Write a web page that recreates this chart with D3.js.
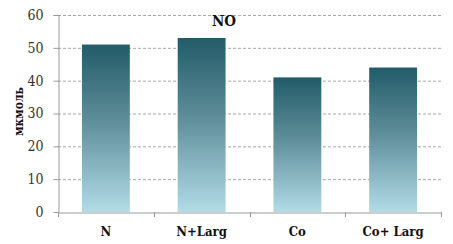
<!DOCTYPE html>
<html><head><meta charset="utf-8">
<script src="https://cdn.jsdelivr.net/npm/d3@7"></script>
<style>html,body{margin:0;padding:0;background:#fff;}</style>
</head><body>
<svg id="c" width="453" height="244"></svg>
<script>
const categories = ["N", "N+Larg", "Co", "Co+ Larg"];
const values = [51, 53, 41, 44];
const yTicks = [0, 10, 20, 30, 40, 50, 60];
const title = "NO";
const yLabel = "мкмоль";

const svg = d3.select("#c");
const m = {left: 58, right: 12, top: 15, bottom: 32};
const W = 453, H = 244;
const FONT = "DejaVu Serif Condensed, DejaVu Serif, serif";
const x = d3.scaleBand().domain(categories).range([m.left, W - m.right]).paddingInner(0.5).paddingOuter(0.25);
const y = d3.scaleLinear().domain([0, 60]).range([H - m.bottom, m.top]);

const defs = svg.append("defs");
const g = defs.append("linearGradient").attr("id", "bg").attr("x1", 0).attr("y1", 0).attr("x2", 0).attr("y2", 1);
g.append("stop").attr("offset", "0%").attr("stop-color", "#235b68");
g.append("stop").attr("offset", "45%").attr("stop-color", "#5d8d99");
g.append("stop").attr("offset", "100%").attr("stop-color", "#b2dbe6");

// gridlines
svg.append("g").selectAll("line").data(yTicks.filter(d => d > 0)).join("line")
  .attr("x1", m.left).attr("x2", W - m.right)
  .attr("y1", d => y(d) + 0.5).attr("y2", d => y(d) + 0.5)
  .attr("stroke", "#a8a8a8").attr("stroke-dasharray", "3,2").attr("stroke-width", 1);

// bars
svg.append("g").selectAll("rect").data(values).join("rect")
  .attr("x", (d, i) => x(categories[i]))
  .attr("y", d => y(d))
  .attr("width", x.bandwidth())
  .attr("height", d => y(0) - y(d))
  .attr("fill", "url(#bg)");

// y axis
const ya = svg.append("g").attr("transform", `translate(${m.left + 0.5},0)`)
  .call(d3.axisLeft(y).tickValues(yTicks).tickSize(5).tickPadding(10));
ya.attr("font-family", FONT);
ya.select(".domain").attr("stroke", "#9a9a9a");
ya.selectAll(".tick line").attr("stroke", "#9a9a9a");
ya.selectAll("text").attr("font-family", FONT).attr("font-size", 14).attr("fill", "#333");

// x axis
const xa = svg.append("g").attr("transform", `translate(0,${y(0) + 0.5})`)
  .call(d3.axisBottom(x).tickSize(0).tickPadding(14));
xa.attr("font-family", FONT);
xa.select(".domain").attr("stroke", "#9a9a9a");
xa.selectAll("text").attr("font-family", FONT).attr("font-size", 13)
  .attr("font-weight", "bold").attr("fill", "#111");
// category boundary ticks
const bounds = categories.map(c => x(c) - x.step() * x.paddingInner() / 2).concat([W - m.right]);
bounds[0] = m.left;
svg.append("g").selectAll("line").data(bounds).join("line")
  .attr("x1", d => Math.round(d) + 0.5).attr("x2", d => Math.round(d) + 0.5)
  .attr("y1", y(0)).attr("y2", y(0) + 5).attr("stroke", "#9a9a9a");

// title
svg.append("text").attr("x", 224).attr("y", 26).attr("text-anchor", "middle")
  .attr("font-family", FONT).attr("font-size", 15).attr("font-weight", "bold")
  .attr("fill", "#111").text(title);

// y label
svg.append("text").attr("transform", `translate(23,${(y(0) + y(60)) / 2 - 2}) rotate(-90)`)
  .attr("text-anchor", "middle").attr("font-family", FONT).attr("font-size", 12)
  .attr("font-weight", "bold").attr("fill", "#111").text(yLabel);
</script>
</body></html>
